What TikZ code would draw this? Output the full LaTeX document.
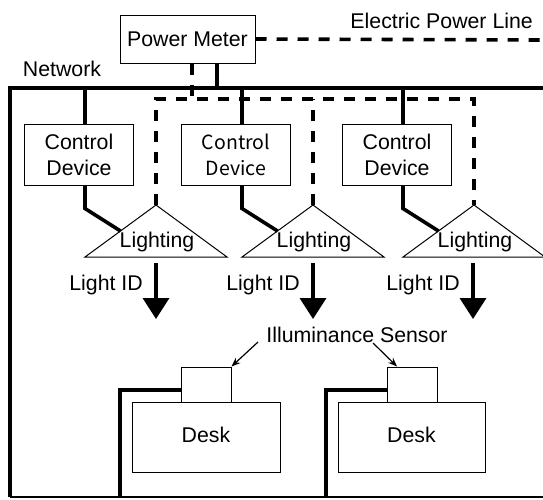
\documentclass[tikz,border=0pt]{standalone}
\usepackage{fontspec}
\setmainfont{Liberation Sans}
\newfontfamily\jpfont{Noto Sans CJK JP}
\usetikzlibrary{arrows.meta,calc}
\begin{document}
\begin{tikzpicture}[x=1pt,y=-1pt,
  box/.style={draw, line width=1pt, inner sep=0pt, align=center, font=\fontsize{21.3pt}{26pt}\selectfont},
  txt/.style={inner sep=0pt, font=\fontsize{21.3pt}{24pt}\selectfont},
  net/.style={line width=3.6pt},
  pwr/.style={line width=3.6pt, dash pattern=on 11pt off 10pt},
  thin/.style={line width=1pt},
  lightarrow/.style={net, -{Triangle[length=21pt,width=26pt]}},
  callout/.style={line width=1.2pt, -{Stealth[length=9pt,width=7pt]}},
]
\useasboundingbox (0,0) rectangle (543,499);

% coordinates
\coordinate (busL) at (10,88);
\coordinate (busR) at (543,88);
\coordinate (botL) at (10,497);
\coordinate (botR) at (543,497);
\coordinate (pwrR) at (543,40);

% Power meter
\node[box, minimum width=135pt, minimum height=48pt] (pm) at (187.5,39) {Power Meter};
\node[txt, anchor=east] (eplabel) at (533,21) {Electric Power Line};
\node[txt] (netlabel) at (62,69) {Network};

% Control devices
\node[box, minimum width=109pt, minimum height=61pt] (c1) at (79,154.5) {Control\\Device};
\node[box, minimum width=109pt, minimum height=61pt, font=\jpfont\fontsize{19.5pt}{26pt}\selectfont] (c2) at (236,154.5) {Control\\Device};
\node[box, minimum width=109pt, minimum height=61pt] (c3) at (397,154.5) {Control\\Device};

% Lighting triangles
\foreach \i/\x in {1/156, 2/313, 3/474} {
  \coordinate (a\i) at (\x,205);
  \coordinate (l\i) at (\x-71,257);
  \coordinate (r\i) at (\x+71,257);
  \draw[thin] (a\i) -- (l\i) -- (r\i) -- cycle;
  \node[txt] (lt\i) at (\x+1,242) {Lighting};
  \coordinate (p\i) at (\x,99);
}

% power dashed lines
\draw[pwr] (pm.east) -- (pwrR);
\draw[pwr] ([xshift=4.5pt]pm.south) -- ([xshift=4.5pt]pm.south |- p1);
\draw[pwr] (a1) -- (p1) -- (p3) -- (a3);
\draw[pwr] (a2) -- (p2);

% network lines
\draw[net] (botL) -- (busL) -- (busR);
\draw[net] ([xshift=29.5pt]pm.south) -- ([xshift=29.5pt]pm.south |- busL);
\foreach \i in {1,2,3} {
  \draw[net] ([xshift=6pt]c\i.north) -- ([xshift=6pt]c\i.north |- busL);
  \draw[net] ([xshift=6pt]c\i.south) -- ++(0,23) -- ($(l\i)!0.5!(a\i)$);
}

% Light ID arrows
\foreach \i/\x in {1/156, 2/313, 3/473} {
  \coordinate (s\i) at (\x,263);
  \coordinate (e\i) at (\x,319);
  \draw[lightarrow] (s\i) -- (e\i);
  \node[txt, anchor=east] (lid\i) at (\x-13,285) {Light ID};
}

% Sensors and desks
\node[draw, thin, minimum width=50pt, minimum height=35pt, inner sep=0pt] (sn1) at (206,384.5) {};
\node[draw, thin, minimum width=50pt, minimum height=35pt, inner sep=0pt] (sn2) at (412,384.5) {};
\node[box, minimum width=148pt, minimum height=70pt] (d1) at (206,437) {\raisebox{4pt}{Desk}};
\node[box, minimum width=147pt, minimum height=70pt] (d2) at (411.5,437) {\raisebox{4pt}{Desk}};

\node[txt] (il) at (357,335) {Illuminance Sensor};
\draw[callout] (258,342) -- (sn1.north east);
\draw[callout] (373,343) -- ([xshift=-15pt]sn2.north);

% desk wires
\coordinate (b1) at (120,497);
\coordinate (b2) at (326,497);
\draw[net] ([yshift=-5.5pt]sn1.west) -| (b1);
\draw[net] ([yshift=-5.5pt]sn2.west) -| (b2);

% bottom line
\draw[line width=1.3pt] (botL) -- (botR);
\end{tikzpicture}
\end{document}
